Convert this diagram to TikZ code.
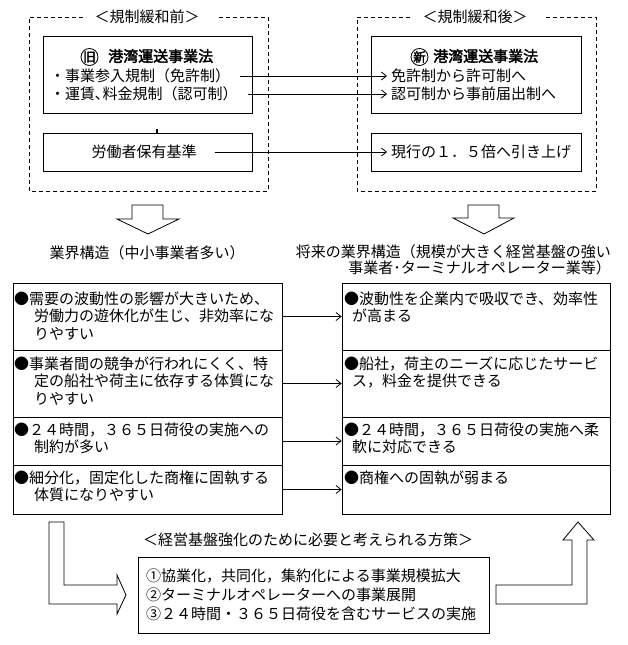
\documentclass[tikz,border=0pt]{standalone}
\usepackage{fontspec}
\setmainfont{Noto Sans CJK JP}[AutoFakeBold=2.5]
\usetikzlibrary{arrows.meta,calc}
\begin{document}
\begin{tikzpicture}[x=1pt,y=-1pt,
  txt/.style={inner sep=0pt, font=\fontsize{15pt}{17.5pt}\selectfont, text height=13.2pt, text depth=1.8pt},
  bold/.style={inner sep=0pt, font=\fontsize{15pt}{17.5pt}\selectfont\bfseries, text height=13.2pt, text depth=1.8pt},
  multi/.style={inner sep=0pt, font=\fontsize{15pt}{17.5pt}\selectfont, align=left, anchor=base west},
  frame/.style={draw, line width=0.8pt},
  boxn/.style={draw, line width=0.8pt, inner sep=0pt},
  dashframe/.style={draw, line width=0.8pt, dash pattern=on 4pt off 3pt},
  conn/.style={draw, line width=0.8pt, -{Straight Barb[length=5pt,width=8pt,line width=0.8pt]}},
  circ/.style={draw, circle, line width=0.8pt, inner sep=0pt, minimum size=17pt, font=\fontsize{12.5pt}{12.5pt}\selectfont\bfseries},
  lcell/.style={boxn, minimum width=269pt},
  rcell/.style={boxn, minimum width=268pt}]
\useasboundingbox (0,0) rectangle (628,645);

% dashed frames
\draw[dashframe] (83,17) -- (29,17) -- (29,191) -- (268,191) -- (268,17) -- (217,17);
\draw[dashframe] (410,17) -- (357,17) -- (357,191) -- (596,191) -- (596,17) -- (545,17);
\node[txt] (tl) at (147,17) {＜規制緩和前＞};
\node[txt] (tr) at (475,17) {＜規制緩和後＞};

% top boxes
\node[boxn, minimum width=209pt, minimum height=77pt] (ob1) at (147.5,74.5) {};
\node[boxn, minimum width=209pt, minimum height=38pt] (ob2) at (147.5,152) {};
\node[boxn, minimum width=210pt, minimum height=77pt] (nb1) at (476,74.5) {};
\node[boxn, minimum width=210pt, minimum height=38pt] (nb2) at (476,152) {};
\fill (155.5,129) rectangle (158,133.5);

\node[circ] (c1) at (89.5,57) {旧};
\node[bold, anchor=west] (t1) at (108,56) {港湾運送事業法};
\node[circ] (c2) at (419.5,57) {新};
\node[bold, anchor=west] (t2) at (433,56) {港湾運送事業法};

\node[txt, anchor=west] (a1) at (50,76) {・事業参入規制（免許制）};
\node[txt, anchor=west] (a2) at (50,94) {・運賃､料金規制（認可制）};
\node[txt] (a3) at (144,152) {労働者保有基準};
\node[txt, anchor=west] (b1) at (391,76) {免許制から許可制へ};
\node[txt, anchor=west] (b2) at (391,94) {認可制から事前届出制へ};
\node[txt, anchor=west] (b3) at (391,152) {現行の１．５倍へ引き上げ};

\draw[conn] ($(a1.east)+(10,0)$) -- ($(a1.east -| b1.west)+(-4,0)$);
\draw[conn] ($(a2.east)+(10,0)$) -- ($(a2.east -| b2.west)+(-4,0)$);
\draw[conn] ($(a3.east)+(18,0)$) -- ($(a3.east -| b3.west)+(-4,0)$);

% down arrows
\draw[frame] (132,205) -- (163,205) -- (163,219) -- (179,219) -- (148,234) -- (117,219) -- (132,219) -- cycle;
\draw[frame] (468,205) -- (499,205) -- (499,218) -- (514,218) -- (484,234) -- (453,218) -- (468,218) -- cycle;

\node[txt] (lab1) at (147,253) {業界構造（中小事業者多い）};
\node[txt, anchor=east] (lab2) at (611,252) {将来の業界構造（規模が大きく経営基盤の強い};
\node[txt, anchor=east] (lab3) at (611,268) {事業者･ターミナルオペレーター業等）};

% tables
\node[lcell, minimum height=67pt] (L1) at (147.5,316.5) {};
\node[lcell, minimum height=67pt] (L2) at (147.5,383.5) {};
\node[lcell, minimum height=48pt] (L3) at (147.5,441) {};
\node[lcell, minimum height=49pt] (L4) at (147.5,489.5) {};
\node[rcell, minimum height=67pt] (R1) at (476,316.5) {};
\node[rcell, minimum height=67pt] (R2) at (476,383.5) {};
\node[rcell, minimum height=48pt] (R3) at (476,441) {};
\node[rcell, minimum height=49pt] (R4) at (476,489.5) {};

\node[multi] (L1t) at (14,339) {●需要の波動性の影響が大きいため、\\\hspace*{20pt}労働力の遊休化が生じ、非効率にな\\\hspace*{20pt}りやすい};
\node[multi] (L2t) at (14,404) {●事業者間の競争が行われにくく、特\\\hspace*{20pt}定の船社や荷主に依存する体質にな\\\hspace*{20pt}りやすい};
\node[multi] (L3t) at (14,452.5) {●２４時間，３６５日荷役の実施への\\\hspace*{20pt}制約が多い};
\node[multi] (L4t) at (14,500.5) {●細分化，固定化した商権に固執する\\\hspace*{20pt}体質になりやすい};

\node[multi] (R1t) at (344,321.5) {●波動性を企業内で吸収でき、効率性\\\hspace*{8pt}が高まる};
\node[multi] (R2t) at (344,386.5) {●船社，荷主のニーズに応じたサービ\\\hspace*{8pt}ス，料金を提供できる};
\node[multi] (R3t) at (344,452.5) {●２４時間，３６５日荷役の実施へ柔\\\hspace*{8pt}軟に対応できる};
\node[multi] (R4t) at (344,483) {●商権への固執が弱まる};

\draw[conn] (L1.east) -- (R1.west);
\draw[conn] (L2.east) -- (R2.west);
\draw[conn] (L3.east) -- (R3.west);
\draw[conn] (L4.east) -- (R4.west);

% bottom
\node[txt] (mt) at (308,540) {＜経営基盤強化のために必要と考えられる方策＞};
\node[boxn, minimum width=351pt, minimum height=76pt] (M) at (313.5,595) {};
\node[multi, font=\fontsize{15pt}{19pt}\selectfont] (Mt) at (146,619) {①協業化，共同化，集約化による事業規模拡大\\②ターミナルオペレーターへの事業展開\\③２４時間・３６５日荷役を含むサービスの実施};

\draw[frame] (49,522) -- (64,522) -- (64,585) -- (117,585) -- (117,575) -- (126,595) -- (117,614) -- (117,604) -- (49,604) -- cycle;
\draw[frame] (496,585) -- (572,585) -- (572,540) -- (563,540) -- (578,522) -- (594,540) -- (587,540) -- (587,604) -- (496,604) -- cycle;
\end{tikzpicture}
\end{document}
